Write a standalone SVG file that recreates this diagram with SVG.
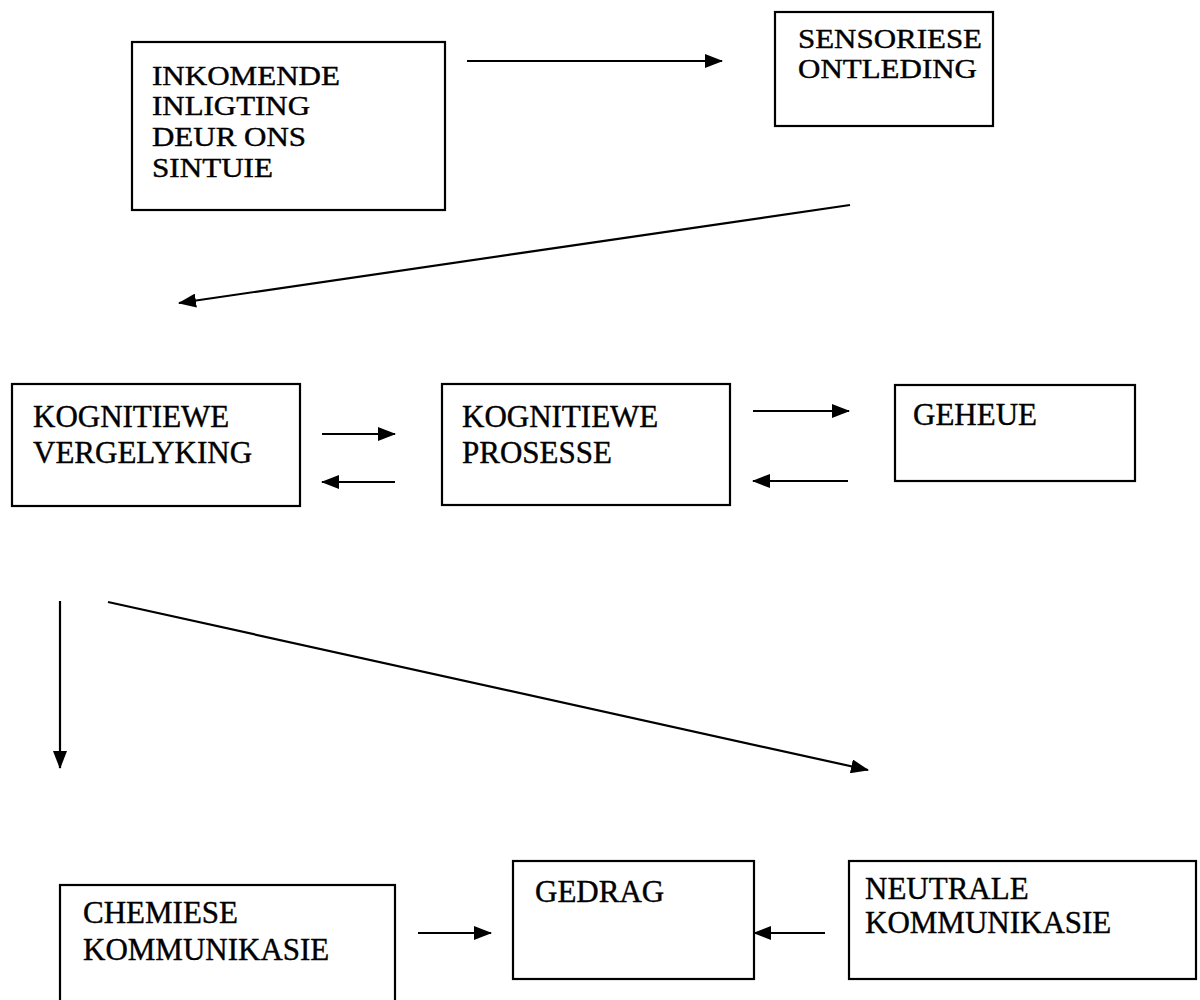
<svg xmlns="http://www.w3.org/2000/svg" width="1200" height="1000" viewBox="0 0 1200 1000">
<style>
.box{fill:none;stroke:#000;stroke-width:2.2}
.t{font-family:"Liberation Serif","Times New Roman",serif;font-size:31px;fill:#000;stroke:#000;stroke-width:0.4}
.s{font-size:27px}
.c{stroke:#000;stroke-width:2.2;fill:none;marker-end:url(#ah)}
</style>
<defs>
<marker id="ah" markerUnits="userSpaceOnUse" markerWidth="18" markerHeight="14" refX="17" refY="7" orient="auto">
<path d="M0,0 L18,7 L0,14 z" fill="#000"/>
</marker>
</defs>
<rect width="1200" height="1000" fill="#fff"/>
<g id="connectors">
<line class="c" x1="467" y1="61" x2="722" y2="61"/>
<line class="c" x1="850" y1="205" x2="179" y2="303"/>
<line class="c" x1="322" y1="434" x2="395" y2="434"/>
<line class="c" x1="395" y1="482" x2="322" y2="482"/>
<line class="c" x1="753" y1="411" x2="849" y2="411"/>
<line class="c" x1="848" y1="481" x2="753" y2="481"/>
<line class="c" x1="60" y1="601" x2="60" y2="768"/>
<line class="c" x1="108" y1="602" x2="868" y2="770"/>
<line class="c" x1="418" y1="933" x2="491" y2="933"/>
<line class="c" x1="825" y1="933" x2="754" y2="933"/>
</g>
<g id="n-inkomende">
<rect class="box" x="132" y="42" width="313" height="168"/>
<text class="t s" x="152" y="85" textLength="188" lengthAdjust="spacingAndGlyphs">INKOMENDE</text>
<text class="t s" x="152" y="115" textLength="158" lengthAdjust="spacingAndGlyphs">INLIGTING</text>
<text class="t s" x="152" y="146" textLength="154" lengthAdjust="spacingAndGlyphs">DEUR ONS</text>
<text class="t s" x="152" y="177" textLength="121" lengthAdjust="spacingAndGlyphs">SINTUIE</text>
</g>
<g id="n-sensoriese">
<rect class="box" x="775" y="12" width="218" height="114"/>
<text class="t s" x="798" y="48" textLength="184" lengthAdjust="spacingAndGlyphs">SENSORIESE</text>
<text class="t s" x="798" y="78" textLength="179" lengthAdjust="spacingAndGlyphs">ONTLEDING</text>
</g>
<g id="n-vergelyking">
<rect class="box" x="12" y="384" width="288" height="122"/>
<text class="t" x="33" y="427">KOGNITIEWE</text>
<text class="t" x="33" y="463">VERGELYKING</text>
</g>
<g id="n-prosesse">
<rect class="box" x="442" y="384" width="288" height="121"/>
<text class="t" x="462" y="427">KOGNITIEWE</text>
<text class="t" x="462" y="463">PROSESSE</text>
</g>
<g id="n-geheue">
<rect class="box" x="895" y="385" width="240" height="96"/>
<text class="t" x="913" y="425">GEHEUE</text>
</g>
<g id="n-chemiese">
<rect class="box" x="60" y="885" width="335" height="130"/>
<text class="t" x="83" y="923">CHEMIESE</text>
<text class="t" x="83" y="960">KOMMUNIKASIE</text>
</g>
<g id="n-gedrag">
<rect class="box" x="513" y="861" width="241" height="118"/>
<text class="t" x="535" y="902">GEDRAG</text>
</g>
<g id="n-neutrale">
<rect class="box" x="849" y="861" width="347" height="118"/>
<text class="t" x="865" y="899">NEUTRALE</text>
<text class="t" x="865" y="933">KOMMUNIKASIE</text>
</g>
</svg>
